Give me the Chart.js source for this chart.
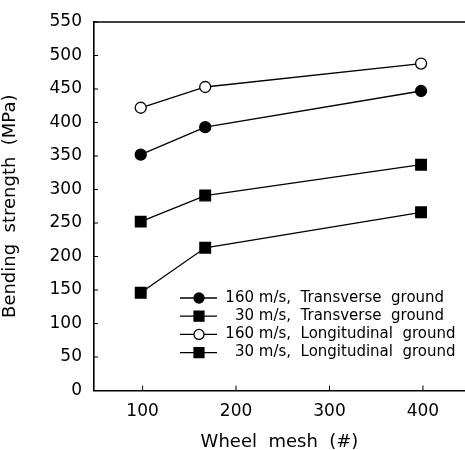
<!DOCTYPE html>
<html>
<head>
<meta charset="utf-8">
<script src="https://cdn.jsdelivr.net/npm/chart.js@4"></script>
<style>
  html, body { margin: 0; padding: 0; background: #fff; overflow: hidden; }
  #chart { display: block; }
</style>
</head>
<body>
<canvas id="chart" width="465" height="450"></canvas>
<script>
"use strict";

// data
const meshes = [98, 167, 398];
const fastTransverse = [352, 393, 447];
const slowTransverse = [252, 291, 337];
const fastLongitudinal = [422, 453, 488];
const slowLongitudinal = [146, 213, 266];

const speeds = ['160', '30', '160', '30'];
const directions = ['Transverse', 'Transverse', 'Longitudinal', 'Longitudinal'];
const xTicks = [100, 200, 300, 400];

const FONT = '"DejaVu Sans", sans-serif';

function toPoints(values) {
  return values.map((v, i) => ({ x: meshes[i], y: v }));
}

function label(i) {
  return speeds[i] + ' m/s,  ' + directions[i] + '  ground';
}

function series(i, values, style, fill, radius) {
  return {
    label: label(i),
    data: toPoints(values),
    borderColor: '#000',
    borderWidth: 1.3,
    pointStyle: style,
    pointRadius: radius,
    pointBackgroundColor: fill,
    pointBorderColor: '#000',
    pointBorderWidth: 1.3
  };
}

//frame, inward ticks and the legend
const framePlugin = {
  id: 'frame',
  afterDraw(chart) {
    const ctx = chart.ctx;
    const a = chart.chartArea;
    const xs = chart.scales.x;
    const ys = chart.scales.y;
    ctx.save();
    ctx.strokeStyle = '#000';
    ctx.lineWidth = 1.6;
    ctx.beginPath();
    ctx.moveTo(a.left, a.top);
    ctx.lineTo(a.right, a.top);
    ctx.stroke();

    ctx.lineWidth = 1;
    ctx.beginPath();
    xs.ticks.forEach(t => {
      const px = xs.getPixelForValue(t.value);
      ctx.moveTo(px, a.bottom);
      ctx.lineTo(px, a.bottom - 5);
    });
    ys.ticks.forEach(t => {
      const py = ys.getPixelForValue(t.value);
      ctx.moveTo(a.left, py);
      ctx.lineTo(a.left + 4, py);
    });
    ctx.stroke();

    // legend
    const y0 = a.top + 276;
    const dy = 18.2;
    const lineX1 = a.left + 86;
    const lineX2 = a.left + 123;
    const markX = a.left + 105;
    const textX = a.left + 160;
    ctx.font = '15px ' + FONT;
    ctx.textBaseline = 'middle';
    chart.data.datasets.forEach((ds, i) => {
      const y = y0 + i * dy;
      ctx.strokeStyle = '#000';
      ctx.lineWidth = 1.3;
      ctx.beginPath();
      ctx.moveTo(lineX1, y);
      ctx.lineTo(lineX2, y);
      ctx.stroke();
      ctx.fillStyle = ds.pointBackgroundColor;
      Chart.helpers.drawPoint(ctx, {
        pointStyle: ds.pointStyle,
        radius: ds.pointRadius - 0.5,
        borderWidth: 1.3,
        rotation: 0
      }, markX, y);
      ctx.fillStyle = '#000';
      const sp = ds.label.indexOf(' ');
      ctx.textAlign = 'right';
      ctx.fillText(ds.label.slice(0, sp), textX, y);
      ctx.textAlign = 'left';
      ctx.fillText(ds.label.slice(sp), textX, y);
    });
    ctx.restore();
  }
};

new Chart(document.getElementById('chart'), {
  type: 'line',
  data: {
    datasets: [
      series(0, fastTransverse, 'circle', '#000', 5.5),
      series(1, slowTransverse, 'rect', '#000', 7.5),
      series(2, fastLongitudinal, 'circle', '#fff', 5.5),
      series(3, slowLongitudinal, 'rect', '#000', 7.5)
    ]
  },
  options: {
    responsive: false,
    animation: false,
    layout: { autoPadding: false, padding: { top: 22, right: 0, left: 0, bottom: 0 } },
    plugins: {
      legend: { display: false },
      tooltip: { enabled: false }
    },
    scales: {
      x: {
        type: 'linear',
        min: 48,
        max: 445,
        afterBuildTicks: scale => { scale.ticks = xTicks.map(v => ({ value: v })); },
        afterFit: scale => {
          scale.height = 59.5;
          scale.paddingLeft = 0;
          scale.paddingRight = 0;
        },
        grid: { display: false, drawTicks: false },
        border: { color: '#000', width: 1.6 },
        ticks: { color: '#000', padding: 11, font: { family: FONT, size: 17 } },
        title: {
          display: true,
          text: 'Wheel  mesh  (#)',
          color: '#000',
          font: { family: FONT, size: 18 },
          padding: { top: 0, bottom: -3 }
        }
      },
      y: {
        min: 0,
        max: 550,
        afterFit: scale => {
          scale.width = 94;
          scale.paddingTop = 0;
          scale.paddingBottom = 0;
        },
        grid: { display: false, drawTicks: false },
        border: { color: '#000', width: 1.6 },
        ticks: { stepSize: 50, color: '#000', padding: 12, font: { family: FONT, size: 17 } },
        title: {
          display: true,
          text: 'Bending  strength  (MPa)',
          color: '#000',
          font: { family: FONT, size: 18 },
          padding: { top: 0, bottom: 0 }
        }
      }
    }
  },
  plugins: [framePlugin]
});
</script>
</body>
</html>
